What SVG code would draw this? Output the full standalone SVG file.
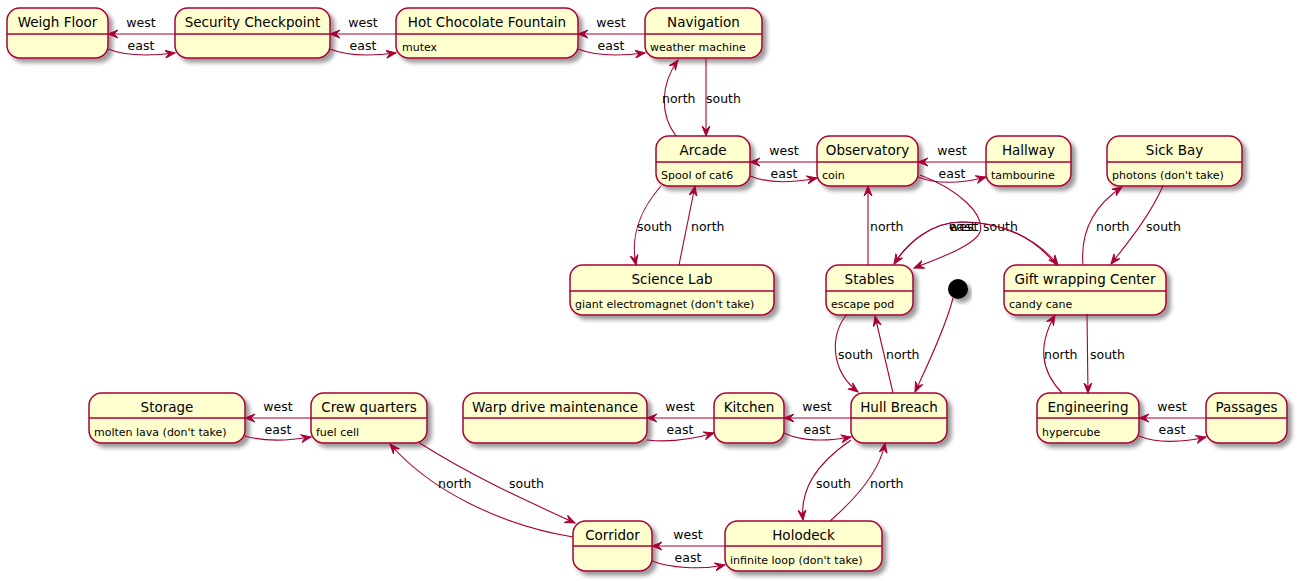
<svg xmlns="http://www.w3.org/2000/svg" width="1298" height="581" viewBox="0 0 1298 581">
<style>
.box{fill:#FEFECE;stroke:#A80036;stroke-width:1.5;filter:url(#sh)}
.div{stroke:#A80036;stroke-width:1.5}
.t{font-family:"DejaVu Sans",sans-serif;font-size:13.5px;text-anchor:middle;fill:#000}
.b{font-family:"DejaVu Sans",sans-serif;font-size:11px;fill:#000}
.e{fill:none;stroke:#A80036;stroke-width:1.1;marker-end:url(#ah)}
.l{font-family:"DejaVu Sans",sans-serif;font-size:12.5px;fill:#000}
.m{text-anchor:middle}
</style>
<defs>
<filter id="sh" x="-20%" y="-20%" width="140%" height="150%">
<feGaussianBlur in="SourceAlpha" stdDeviation="2"/>
<feOffset dx="4" dy="4" result="o"/>
<feComponentTransfer><feFuncA type="linear" slope="0.4"/></feComponentTransfer>
<feMerge><feMergeNode/><feMergeNode in="SourceGraphic"/></feMerge>
</filter>
<marker id="ah" markerWidth="11" markerHeight="10" refX="10" refY="5" orient="auto" markerUnits="userSpaceOnUse">
<path d="M0,1 L10,5 L0,9 L4,5 Z" fill="#A80036" stroke="#A80036" stroke-width="1"/>
</marker>
</defs>

<g id="weigh-floor"><rect class="box" x="7" y="8" width="101" height="50" rx="12.5"/><line class="div" x1="7" y1="34" x2="108" y2="34"/><text class="t" x="57.5" y="27">Weigh Floor</text></g>
<g id="security-checkpoint"><rect class="box" x="175" y="8" width="155" height="50" rx="12.5"/><line class="div" x1="175" y1="34" x2="330" y2="34"/><text class="t" x="252.5" y="27">Security Checkpoint</text></g>
<g id="hot-chocolate-fountain"><rect class="box" x="396" y="8" width="182" height="50" rx="12.5"/><line class="div" x1="396" y1="34" x2="578" y2="34"/><text class="t" x="487" y="27">Hot Chocolate Fountain</text><text class="b" x="402" y="51">mutex</text></g>
<g id="navigation"><rect class="box" x="645" y="8" width="117" height="50" rx="12.5"/><line class="div" x1="645" y1="34" x2="762" y2="34"/><text class="t" x="703.5" y="27">Navigation</text><text class="b" x="650" y="51">weather machine</text></g>

<g id="arcade"><rect class="box" x="656" y="136" width="94" height="50" rx="12.5"/><line class="div" x1="656" y1="162" x2="750" y2="162"/><text class="t" x="703" y="155">Arcade</text><text class="b" x="661" y="179">Spool of cat6</text></g>
<g id="observatory"><rect class="box" x="817" y="136" width="101" height="50" rx="12.5"/><line class="div" x1="817" y1="162" x2="918" y2="162"/><text class="t" x="867.5" y="155">Observatory</text><text class="b" x="822" y="179">coin</text></g>
<g id="hallway"><rect class="box" x="986" y="136" width="85" height="50" rx="12.5"/><line class="div" x1="986" y1="162" x2="1071" y2="162"/><text class="t" x="1028.5" y="155">Hallway</text><text class="b" x="991" y="179">tambourine</text></g>
<g id="sick-bay"><rect class="box" x="1107" y="136" width="135" height="50" rx="12.5"/><line class="div" x1="1107" y1="162" x2="1242" y2="162"/><text class="t" x="1174.5" y="155">Sick Bay</text><text class="b" x="1112" y="179">photons (don't take)</text></g>

<g id="science-lab"><rect class="box" x="570" y="265" width="204" height="50" rx="12.5"/><line class="div" x1="570" y1="291" x2="774" y2="291"/><text class="t" x="672" y="284">Science Lab</text><text class="b" x="575" y="308">giant electromagnet (don't take)</text></g>
<g id="stables"><rect class="box" x="826" y="265" width="87" height="50" rx="12.5"/><line class="div" x1="826" y1="291" x2="913" y2="291"/><text class="t" x="869.5" y="284">Stables</text><text class="b" x="831" y="308">escape pod</text></g>
<g id="start"><circle cx="958" cy="289" r="10" fill="#000" filter="url(#sh)"/></g>
<g id="gift-wrapping-center"><rect class="box" x="1004" y="265" width="162" height="50" rx="12.5"/><line class="div" x1="1004" y1="291" x2="1166" y2="291"/><text class="t" x="1085" y="284">Gift wrapping Center</text><text class="b" x="1009" y="308">candy cane</text></g>

<g id="storage"><rect class="box" x="89" y="393" width="156" height="50" rx="12.5"/><line class="div" x1="89" y1="418" x2="245" y2="418"/><text class="t" x="167" y="412">Storage</text><text class="b" x="94" y="436">molten lava (don't take)</text></g>
<g id="crew-quarters"><rect class="box" x="311" y="393" width="116" height="50" rx="12.5"/><line class="div" x1="311" y1="418" x2="427" y2="418"/><text class="t" x="369" y="412">Crew quarters</text><text class="b" x="316" y="436">fuel cell</text></g>
<g id="warp-drive-maintenance"><rect class="box" x="463" y="393" width="184" height="50" rx="12.5"/><line class="div" x1="463" y1="418" x2="647" y2="418"/><text class="t" x="555" y="412">Warp drive maintenance</text></g>
<g id="kitchen"><rect class="box" x="714" y="393" width="70" height="50" rx="12.5"/><line class="div" x1="714" y1="418" x2="784" y2="418"/><text class="t" x="749" y="412">Kitchen</text></g>
<g id="hull-breach"><rect class="box" x="851" y="393" width="96" height="50" rx="12.5"/><line class="div" x1="851" y1="418" x2="947" y2="418"/><text class="t" x="899" y="412">Hull Breach</text></g>
<g id="engineering"><rect class="box" x="1037" y="393" width="102" height="50" rx="12.5"/><line class="div" x1="1037" y1="418" x2="1139" y2="418"/><text class="t" x="1088" y="412">Engineering</text><text class="b" x="1042" y="436">hypercube</text></g>
<g id="passages"><rect class="box" x="1206" y="393" width="81" height="50" rx="12.5"/><line class="div" x1="1206" y1="418" x2="1287" y2="418"/><text class="t" x="1246.5" y="412">Passages</text></g>

<g id="corridor"><rect class="box" x="573" y="521" width="79" height="50" rx="12.5"/><line class="div" x1="573" y1="546" x2="652" y2="546"/><text class="t" x="612.5" y="540">Corridor</text></g>
<g id="holodeck"><rect class="box" x="725" y="521" width="157" height="50" rx="12.5"/><line class="div" x1="725" y1="546" x2="882" y2="546"/><text class="t" x="803.5" y="540">Holodeck</text><text class="b" x="730" y="564">infinite loop (don't take)</text></g>

<g id="connectors">
<path class="e" d="M175,34 L108,34"/><text class="l m" x="141" y="27">west</text>
<path class="e" d="M108,49 C125,56 150,56 175,53"/><text class="l m" x="141" y="50">east</text>
<path class="e" d="M396,34 L330,34"/><text class="l m" x="363" y="27">west</text>
<path class="e" d="M330,49 C347,56 372,56 396,53"/><text class="l m" x="363" y="50">east</text>
<path class="e" d="M645,34 L578,34"/><text class="l m" x="611" y="27">west</text>
<path class="e" d="M578,49 C595,56 620,56 645,53"/><text class="l m" x="611" y="50">east</text>

<path class="e" d="M706,58 L706,136"/><text class="l" x="706" y="103">south</text>
<path class="e" d="M676,136 C660,115 660,85 678,60"/><text class="l" x="662" y="103">north</text>

<path class="e" d="M817,162 L750,162"/><text class="l m" x="784" y="155">west</text>
<path class="e" d="M750,176 C767,183 792,183 817,178"/><text class="l m" x="784" y="178">east</text>
<path class="e" d="M986,162 L918,162"/><text class="l m" x="952" y="155">west</text>
<path class="e" d="M918,177 C935,184 960,184 986,177"/><text class="l m" x="952" y="178">east</text>

<path class="e" d="M661,186 C640,210 630,235 636,265"/><text class="l" x="637" y="231">south</text>
<path class="e" d="M679,265 L695,186"/><text class="l" x="691" y="231">north</text>

<path class="e" d="M868,265 L868,186"/><text class="l" x="870" y="231">north</text>
<path class="e" d="M920,175 C960,190 985,215 980,232 C975,245 940,258 914,268"/><text class="l" x="983" y="231">south</text>

<path class="e" d="M1056,265 C1030,232 995,222 962,222 C932,222 908,242 894,264"/><text class="l" x="949" y="231">west</text>
<path class="e" d="M894,264 C908,242 932,222 962,222 C995,222 1033,234 1058,265"/><text class="l" x="949" y="231">east</text>

<path class="e" d="M1083,265 C1080,230 1095,205 1122,187"/><text class="l" x="1096" y="231">north</text>
<path class="e" d="M1163,186 C1150,215 1130,240 1111,264"/><text class="l" x="1146" y="231">south</text>

<path class="e" d="M1087,314 L1088,393"/><text class="l" x="1090" y="359">south</text>
<path class="e" d="M1062,393 C1040,370 1038,345 1055,315"/><text class="l" x="1044" y="359">north</text>

<path class="e" d="M1206,418 L1139,418"/><text class="l m" x="1172" y="411">west</text>
<path class="e" d="M1139,436 C1156,443 1181,443 1206,437"/><text class="l m" x="1172" y="434">east</text>

<path class="e" d="M953,298 C945,330 925,370 915,392"/>

<path class="e" d="M847,314 C830,335 830,370 858,392"/><text class="l" x="838" y="359">south</text>
<path class="e" d="M893,393 L875,316"/><text class="l" x="886" y="359">north</text>

<path class="e" d="M851,418 L784,418"/><text class="l m" x="817" y="411">west</text>
<path class="e" d="M784,433 C800,441 825,442 851,437"/><text class="l m" x="817" y="434">east</text>
<path class="e" d="M714,418 L647,418"/><text class="l m" x="680" y="411">west</text>
<path class="e" d="M647,440 C665,442 690,440 714,433"/><text class="l m" x="680" y="434">east</text>
<path class="e" d="M311,418 L245,418"/><text class="l m" x="278" y="411">west</text>
<path class="e" d="M245,436 C262,441 287,441 311,437"/><text class="l m" x="278" y="434">east</text>

<path class="e" d="M851,440 C815,465 800,490 803,520"/><text class="l" x="816" y="488">south</text>
<path class="e" d="M830,521 C860,495 880,470 885,443"/><text class="l" x="870" y="488">north</text>

<path class="e" d="M725,546 L652,546"/><text class="l m" x="688" y="539">west</text>
<path class="e" d="M652,561 C670,568 700,570 725,565"/><text class="l m" x="688" y="562">east</text>

<path class="e" d="M418,442 C470,475 520,498 575,523"/><text class="l" x="509" y="488">south</text>
<path class="e" d="M573,537 C500,525 430,490 390,444"/><text class="l" x="438" y="488">north</text>
</g>
</svg>
